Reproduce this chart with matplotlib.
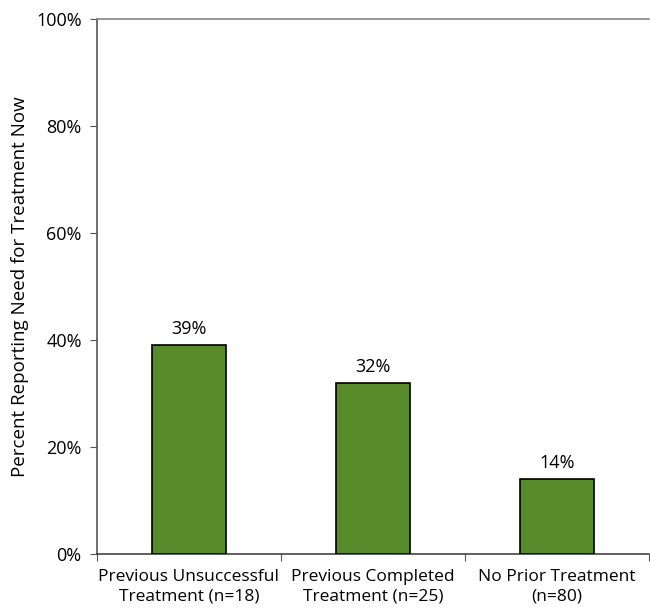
import matplotlib
matplotlib.use("Agg")
import matplotlib.pyplot as plt
from matplotlib.ticker import FixedLocator, NullFormatter

categories = ["Previous Unsuccessful\nTreatment (n=18)",
              "Previous Completed\nTreatment (n=25)",
              "No Prior Treatment\n(n=80)"]
values = [39, 32, 14]
value_labels = ["39%", "32%", "14%"]
yticks = [0, 20, 40, 60, 80, 100]
ytick_labels = ["0%", "20%", "40%", "60%", "80%", "100%"]

plt.rcParams['font.family'] = ['Open Sans', 'DejaVu Sans']

fig = plt.figure(figsize=(6.5, 6.08), dpi=100)
ax = fig.add_axes([97/650, 54/608, 552/650, 535/608])

x = list(range(len(categories)))
ax.bar(x, values, width=0.4, color="#588b2a", edgecolor="black", linewidth=1.2, zorder=3)
for xi, v, lab in zip(x, values, value_labels):
    ax.annotate(lab, (xi, v), xytext=(0, 5), textcoords="offset points",
                ha="center", va="bottom", fontsize=13)

ax.set_xlim(-0.5, len(categories) - 0.5)
ax.set_ylim(0, 100)
ax.set_yticks(yticks)
ax.set_yticklabels(ytick_labels, fontsize=13)
ax.xaxis.set_major_locator(FixedLocator([-0.5, 0.5, 1.5, 2.5]))
ax.xaxis.set_major_formatter(NullFormatter())
ax.xaxis.set_minor_locator(FixedLocator(x))
ax.set_xticklabels(categories, minor=True, fontsize=12.5, linespacing=1.25)
ax.tick_params(axis="x", which="minor", length=0, pad=11)
ax.tick_params(axis="x", which="major", length=5, direction="out", color="#555555")
ax.tick_params(axis="y", length=5, direction="out", color="#555555", pad=6)
ax.set_ylabel("Percent Reporting Need for Treatment Now", fontsize=13.5)
ax.yaxis.set_label_coords(-0.124, 0.5)

ax.spines["right"].set_visible(False)
ax.spines["left"].set_color("#555555")
ax.spines["bottom"].set_color("#444444")
ax.spines["top"].set_color("#888888")
for s in ax.spines.values():
    s.set_linewidth(1.2)

fig.savefig("out.png", dpi=100)
